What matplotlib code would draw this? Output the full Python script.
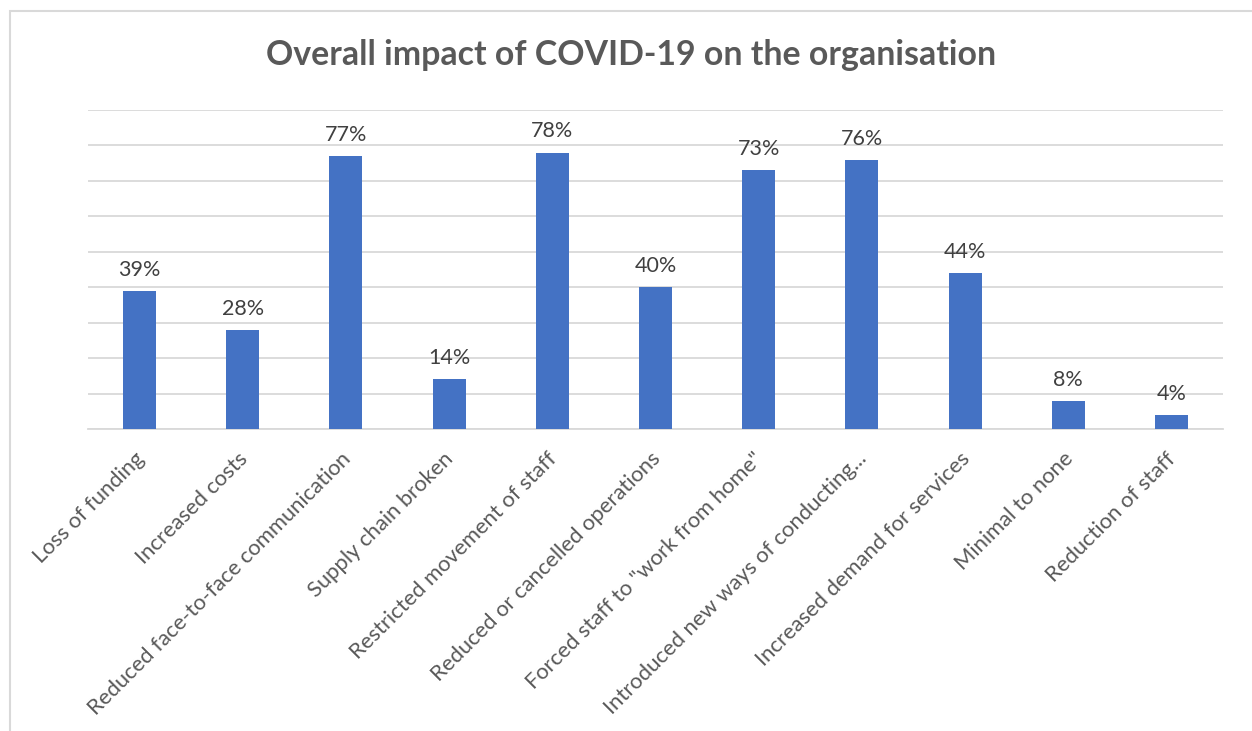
import matplotlib
matplotlib.use("Agg")
import matplotlib.pyplot as plt
from matplotlib.patches import Rectangle
from matplotlib.transforms import ScaledTranslation

categories = ["Loss of funding", "Increased costs", "Reduced face-to-face communication",
              "Supply chain broken", "Restricted movement of staff",
              "Reduced or cancelled operations", "Forced staff to \"work from home\"",
              "Introduced new ways of conducting...", "Increased demand for services",
              "Minimal to none", "Reduction of staff"]
values = [39, 28, 77, 14, 78, 40, 73, 76, 44, 8, 4]
title = "Overall impact of COVID-19 on the organisation"

plt.rcParams['font.family'] = ['Lato', 'DejaVu Sans']

W, H = 1252, 731
fig = plt.figure(figsize=(W / 100, H / 100), dpi=100)
fig.patches.append(Rectangle((10 / W, -0.1), 1.2, 1 - 11 / H + 0.1, transform=fig.transFigure,
                             fill=False, edgecolor='#d9d9d9', linewidth=1.5))

ax = fig.add_axes([88 / W, (H - 429) / H, (1223 - 88) / W, (429 - 110) / H])
x = list(range(len(categories)))
ax.bar(x, values, width=0.32, color='#4472c4', zorder=3)
ax.set_xlim(-0.5, len(categories) - 0.5)
ax.set_ylim(0, 90)
ax.set_yticks(range(0, 91, 10))
ax.yaxis.grid(True, color='#d9d9d9', linewidth=1.3)
ax.set_axisbelow(True)
ax.tick_params(axis='y', left=False, labelleft=False)
ax.tick_params(axis='x', length=0, pad=14)
for s in ['top', 'right', 'left']:
    ax.spines[s].set_visible(False)
ax.spines['bottom'].set_color('#d9d9d9')
ax.spines['bottom'].set_linewidth(1.3)

ax.set_xticks(x)
ax.set_xticklabels(categories, rotation=45, ha='right', va='top', rotation_mode='anchor',
                   fontsize=15.8, color='#595959')
shift = ScaledTranslation(-4 / 72, 0, fig.dpi_scale_trans)
for lbl in ax.get_xticklabels():
    lbl.set_transform(lbl.get_transform() + shift)

for xi, v in zip(x, values):
    ax.annotate(f"{v}%", (xi, v), xytext=(0, 8), textcoords='offset points',
                ha='center', va='bottom', fontsize=15.5, color='#404040')

fig.text(631 / W, 1 - 55 / H, title, ha='center', va='center', fontsize=24.4,
         fontweight='bold', color='#595959')

fig.savefig('out.png', dpi=100)
